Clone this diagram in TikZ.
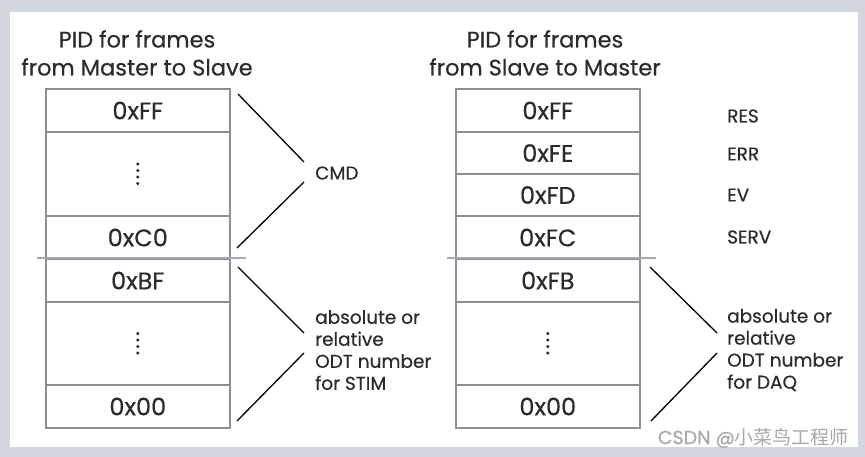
\documentclass[tikz,border=0pt]{standalone}
\usepackage{fontspec}
\setmainfont{Poppins}[FakeBold=0.4]
\newfontfamily\cjk{Noto Sans CJK SC}
\definecolor{bggray}{HTML}{D2D7DE}
\definecolor{cellborder}{HTML}{8A9096}
\definecolor{sepgray}{HTML}{A3A9AE}
\definecolor{txt}{HTML}{2B2B2B}
\definecolor{wm}{HTML}{A8A8A8}
\begin{document}
\begin{tikzpicture}[x=1pt,y=-1pt,
  cell/.style={draw=cellborder,line width=1.6pt,fill=white,anchor=north west,inner sep=0pt,
    minimum width=184pt,minimum height=43pt,font=\fontsize{24}{26}\selectfont,text=txt,
    text height=18pt,text depth=0pt},
  tallcell/.style={cell,minimum height=84pt},
  title/.style={font=\fontsize{22.5}{28}\selectfont,text=txt,align=center},
  side/.style={font=\fontsize{18.5}{22}\selectfont,text=txt,anchor=west,align=left,inner sep=0pt},
  brace/.style={draw=black,line width=1.3pt},
  sep/.style={draw=sepgray,line width=1.6pt},
  dot/.style={circle,fill=black!85,inner sep=0pt,minimum size=3.3pt}]
\useasboundingbox (0,0) rectangle (865,457);
\fill[bggray] (0,0) rectangle (865,457);
\fill[white] (10,12) rectangle (858,447);

% titles
\node[title] (t1) at (137,53) {PID for frames\\from Master to Slave};
\node[title] (t2) at (545,53) {PID for frames\\from Slave to Master};

% left table
\node[cell] (lff) at (45,88) {0xFF};
\node[tallcell] (ld1) at (45,131) {};
\node[cell] (lc0) at (45,215) {0xC0};
\node[cell] (lbf) at (45,258) {0xBF};
\node[tallcell,minimum height=83pt] (ld2) at (45,301) {};
\node[cell] (l00) at (45,384) {0x00};
\foreach \i in {0,1,2,3}{
  \node[dot] (ldA\i) at ([yshift=-9.75+6.5*\i]ld1.center) {};
  \node[dot] (ldB\i) at ([yshift=-9.75+6.5*\i]ld2.center) {};
}
\coordinate (lsepL) at (37,258);
\coordinate (lsepR) at (246,258);
\draw[sep] (lsepL) -- (lsepR);

% right table
\node[cell] (rff) at (455,88) {0xFF};
\node[cell,minimum height=42pt] (rfe) at (455,131) {0xFE};
\node[cell,minimum height=42pt] (rfd) at (455,173) {0xFD};
\node[cell] (rfc) at (455,215) {0xFC};
\node[cell] (rfb) at (455,258) {0xFB};
\node[tallcell,minimum height=83pt] (rd2) at (455,301) {};
\node[cell] (r00) at (455,384) {0x00};
\foreach \i in {0,1,2,3}{
  \node[dot] (rdB\i) at ([yshift=-9.75+6.5*\i]rd2.center) {};
}
\coordinate (rsepL) at (447,258);
\coordinate (rsepR) at (656,258);
\draw[sep] (rsepL) -- (rsepR);

% left side labels
\node[side] (cmd) at (315,173) {CMD};
\node[side] (stim) at (315,350) {absolute or\\relative\\ODT number\\for STIM};
\coordinate (c1a) at (238,94);  \coordinate (c1b) at (304,162);
\coordinate (c2a) at (304,182); \coordinate (c2b) at (237,248);
\draw[brace] (c1a) -- (c1b);
\draw[brace] (c2a) -- (c2b);
\coordinate (s1a) at (238,267); \coordinate (s1b) at (304,333);
\coordinate (s2a) at (304,353); \coordinate (s2b) at (237,421);
\draw[brace] (s1a) -- (s1b);
\draw[brace] (s2a) -- (s2b);

% right side labels
\node[side] (res) at (727,116) {RES};
\node[side] (err) at (727,154) {ERR};
\node[side] (ev) at (727,195) {EV};
\node[side] (serv) at (727,237) {SERV};
\node[side] (daq) at (727,350) {absolute or\\relative\\ODT number\\for DAQ};
\coordinate (d1a) at (650,267); \coordinate (d1b) at (717,333);
\coordinate (d2a) at (717,353); \coordinate (d2b) at (651,421);
\draw[brace] (d1a) -- (d1b);
\draw[brace] (d2a) -- (d2b);

% watermark
\node[anchor=east,inner sep=0pt,text=wm,font=\fontsize{19}{21}\selectfont] (wmk) at (849,438) {CSDN @{\cjk 小菜鸟工程师}};
\end{tikzpicture}
\end{document}
